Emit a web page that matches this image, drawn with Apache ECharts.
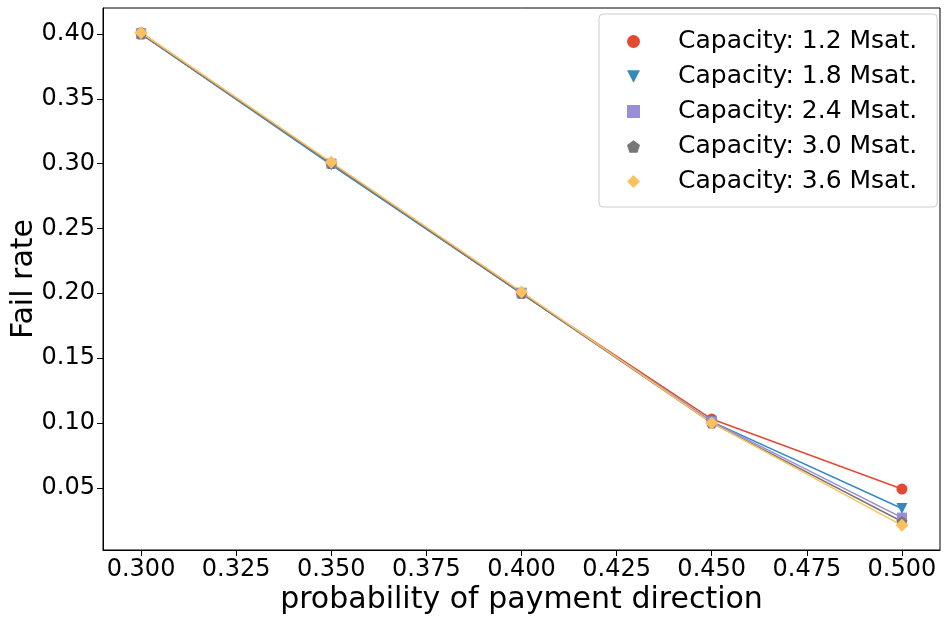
<!DOCTYPE html>
<html>
<head>
<meta charset="utf-8">
<script src="https://cdn.jsdelivr.net/npm/echarts@6/dist/echarts.min.js"></script>
<style>
  html, body { margin: 0; padding: 0; background: #fff; }
  #chart { width: 947px; height: 622px; }
</style>
</head>
<body>
<div id="chart"></div>
<script>
// probability of payment direction
const xValues = [0.30, 0.35, 0.40, 0.45, 0.50]
const capacities = ['1.2', '1.8', '2.4', '3.0', '3.6']
const failRates = [
  [0.401, 0.300, 0.200, 0.103, 0.049],
  [0.400, 0.299, 0.200, 0.101, 0.034],
  [0.400, 0.300, 0.200, 0.101, 0.027],
  [0.400, 0.300, 0.200, 0.100, 0.024],
  [0.401, 0.301, 0.201, 0.100, 0.021],
]
const xTicks = [0.300, 0.325, 0.350, 0.375, 0.400, 0.425, 0.450, 0.475, 0.500]
const yTicks = [0.05, 0.10, 0.15, 0.20, 0.25, 0.30, 0.35, 0.40]

const colors = ['#E24A33', '#348ABD', '#988ED5', '#777777', '#FBC15E']
const symbols = [
  'circle',
  'path://M-1,-0.9 L1,-0.9 L0,1 Z',
  'rect',
  'path://M0,-1 L0.951,-0.309 L0.588,0.809 L-0.588,0.809 L-0.951,-0.309 Z',
  'diamond',
]
const sizes = [11, 11, 10, 11, 13]
const font = 'DejaVu Sans'

const chart = echarts.init(document.getElementById('chart'))

const series = capacities.map((c, i) => ({
  name: `Capacity: ${c} Msat.`,
  type: 'line',
  data: xValues.map((x, j) => [x, failRates[i][j]]),
  symbol: symbols[i],
  symbolSize: sizes[i],
  showAllSymbol: true,
  lineStyle: { color: colors[i], width: 1.5 },
  itemStyle: { color: colors[i] },
  emphasis: { disabled: true },
  animation: false,
}))

chart.setOption({
  backgroundColor: '#fff',
  animation: false,
  grid: {
    left: 103, right: 7, top: 8, bottom: 72,
    outerBoundsMode: 'none',
    containLabel: false,
    show: true, borderColor: '#000', borderWidth: 1,
  },
  legend: {
    left: 599,
    top: 14,
    orient: 'vertical',
    data: capacities.map((c, i) => ({ name: `Capacity: ${c} Msat.`, icon: symbols[i] })),
    itemWidth: 13,
    itemHeight: 13,
    itemGap: 10,
    padding: [15, 20, 13, 28],
    borderColor: '#ccc',
    borderWidth: 1,
    borderRadius: 4,
    backgroundColor: 'rgba(255,255,255,0.8)',
    textStyle: { fontFamily: font, fontSize: 25, color: '#000', padding: [0, 0, 0, 33] },
  },
  xAxis: {
    type: 'value',
    min: 0.29,
    max: 0.51,
    name: 'probability of payment direction',
    nameLocation: 'middle',
    nameMoveOverlap: false,
    nameGap: 35,
    nameTextStyle: { fontFamily: font, fontSize: 30, color: '#000' },
    axisLine: { onZero: false, lineStyle: { color: '#000' } },
    axisTick: { customValues: xTicks, length: 6, lineStyle: { color: '#000' } },
    axisLabel: {
      customValues: xTicks,
      fontFamily: font, fontSize: 24, color: '#000', margin: 8,
      formatter: (v) => v.toFixed(3),
    },
    splitLine: { show: false },
  },
  yAxis: {
    type: 'value',
    min: 0.002,
    max: 0.42,
    name: 'Fail rate',
    nameLocation: 'middle',
    nameMoveOverlap: false,
    nameGap: 64,
    nameTextStyle: { fontFamily: font, fontSize: 30, color: '#000' },
    axisLine: { onZero: false, lineStyle: { color: '#000' } },
    axisTick: { customValues: yTicks, length: 6, lineStyle: { color: '#000' } },
    axisLabel: {
      customValues: yTicks,
      fontFamily: font, fontSize: 24, color: '#000', margin: 8,
      formatter: (v) => v.toFixed(2),
    },
    splitLine: { show: false },
  },
  series,
})
</script>
</body>
</html>
